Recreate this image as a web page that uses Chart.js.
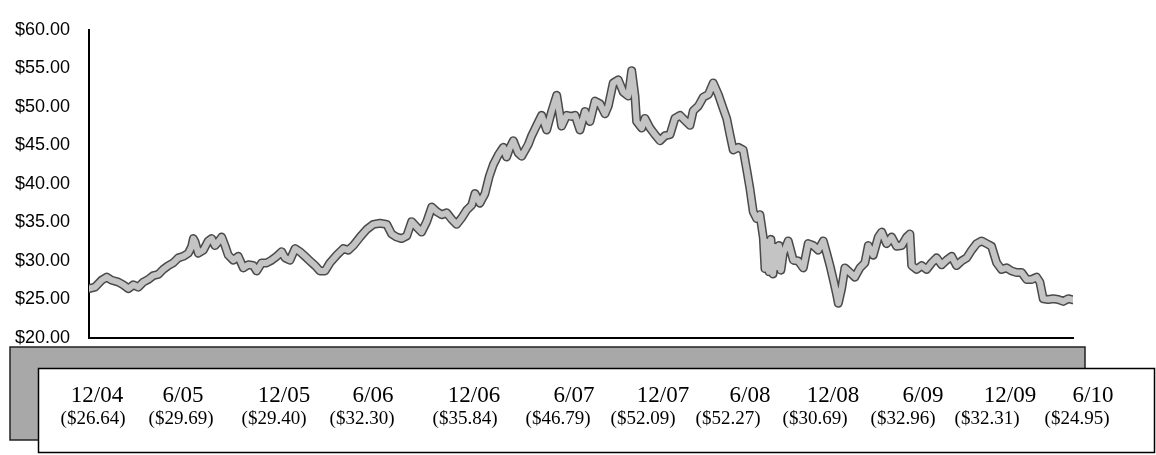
<!DOCTYPE html>
<html>
<head>
<meta charset="utf-8">
<script src="https://cdn.jsdelivr.net/npm/chart.js@4.4.0/dist/chart.umd.min.js"></script>
<style>
    html, body { margin: 0; padding: 0; background: #fff; }
    #wrap { width: 1156px; height: 455px; position: relative; }
</style>
</head>
<body>
<div id="wrap"><canvas id="priceChart"></canvas></div>
<script>
// months since 12/04
var months = [
    0, 0.40, 0.85, 1.19, 1.52, 1.97, 2.30, 2.64, 2.97, 3.31, 3.64, 3.98, 4.31, 4.65, 4.98, 5.32, 5.65, 5.99,
    6.32, 6.66, 6.89, 7.00, 7.11, 7.33, 7.67, 8.00, 8.23, 8.45, 8.67, 8.90, 9.12, 9.34, 9.68, 10.01, 10.35, 10.68,
    11.02, 11.25, 11.58, 11.92, 12.25, 12.59, 12.92, 13.15, 13.48, 13.82, 14.15, 14.49, 14.82, 15.16, 15.49, 15.83, 16.16,
    16.61, 17.06, 17.39, 17.73, 18.18, 18.63, 19.07, 19.52, 19.97, 20.30, 20.64, 20.97, 21.31, 21.64, 21.98, 22.31,
    22.65, 22.99, 23.32, 23.66, 23.99, 24.33, 24.66, 25.00, 25.33, 25.67, 25.89, 26.22, 26.56, 26.85, 27.12, 27.45,
    27.79, 28.01, 28.24, 28.46, 28.79, 29.02, 29.46, 29.69, 30.03, 30.36, 30.70, 31.03, 31.37, 31.70, 32.04, 32.37,
    32.60, 32.93, 33.27, 33.60, 33.94, 34.27, 34.61, 34.83, 35.16, 35.50, 35.84, 36.17, 36.40, 36.62, 36.73, 37.07,
    37.29, 37.63, 37.96, 38.30, 38.63, 38.97, 39.30, 39.64, 39.97, 40.31, 40.53, 40.87, 41.20, 41.54, 41.87, 42.21,
    42.54, 42.77, 42.99, 43.21, 43.55, 43.88, 44.11, 44.33, 44.55, 44.78, 45.00, 45.23,
    45.34, 45.47, 45.61, 45.74, 45.88, 46.01, 46.14, 46.28, 46.41, 46.57, 46.90, 47.24, 47.57, 47.91, 48.24, 48.58,
    48.91, 49.25, 49.48, 49.70, 49.92, 50.15, 50.26, 50.48, 50.70, 51.04, 51.37, 51.71, 52.04, 52.27, 52.60, 52.94,
    53.17, 53.50, 53.84, 54.17, 54.51, 54.84, 55.06, 55.18, 55.51, 55.85, 56.18, 56.52, 56.85, 57.19, 57.52, 57.86,
    58.19, 58.53, 58.87, 59.20, 59.54, 59.87, 60.21, 60.54, 60.88, 61.21, 61.55, 61.88, 62.22, 62.55, 62.89, 63.23,
    63.56, 63.78, 64.00, 64.34, 64.67, 65.01, 65.35, 65.68, 66
];
var prices = [
    26.4, 26.6, 27.5, 27.9, 27.5, 27.25, 26.9, 26.4, 26.9, 26.6, 27.25, 27.6, 28.1, 28.25, 28.9, 29.4, 29.75, 30.4,
    30.6, 31.0, 31.9, 32.9, 32.5, 31.0, 31.4, 32.6, 32.9, 32.0, 32.5, 33.1, 32.0, 30.75, 30.1, 30.6, 29.1, 29.5,
    29.4, 28.7, 29.75, 29.75, 30.1, 30.6, 31.2, 30.4, 30.1, 31.6, 31.2, 30.6, 30.0, 29.4, 28.7, 28.7, 29.75,
    30.75, 31.6, 31.4, 32.0, 33.1, 34.1, 34.75, 34.9, 34.75, 33.5, 33.1, 32.9, 33.25, 35.1, 34.4, 33.75,
    35.1, 37.0, 36.4, 36.0, 36.25, 35.4, 34.75, 35.6, 36.6, 37.25, 38.75, 37.5, 38.75, 41.0, 42.5, 43.75,
    44.75, 43.5, 44.75, 45.6, 44.0, 43.6, 45.1, 46.25, 47.6, 48.9, 47.0, 49.4, 51.5, 47.5, 48.9, 48.75,
    48.9, 47.0, 49.4, 48.1, 50.75, 50.4, 49.1, 50.1, 53.1, 53.5, 51.9, 51.4, 54.7, 51.4, 48.1, 47.25,
    48.5, 47.25, 46.4, 45.6, 46.25, 46.4, 48.5, 48.9, 48.25, 47.6, 49.5, 50.1, 51.25, 51.6, 53.1, 51.6,
    49.75, 48.5, 46.4, 44.4, 44.75, 44.4, 41.9, 39.4, 36.4, 35.5, 36.0, 33.0,
    29.0, 32.5, 28.6, 32.8, 28.3, 31.8, 29.2, 32.0, 28.8, 31.0, 32.6, 30.1, 30.0, 29.1, 32.25, 32.0,
    31.4, 32.6, 31.0, 29.4, 27.6, 25.6, 24.5, 26.4, 29.1, 28.5, 27.9, 29.1, 29.75, 32.0, 30.75, 33.1,
    33.75, 32.25, 33.1, 31.9, 32.0, 33.1, 33.5, 29.4, 28.9, 29.4, 28.9, 29.75, 30.4, 29.5, 30.1, 30.6,
    29.4, 30.0, 30.4, 31.4, 32.25, 32.6, 32.25, 31.9, 29.75, 28.9, 29.1, 28.7, 28.5, 28.5, 27.6, 27.6,
    27.9, 27.25, 25.1, 25.0, 25.1, 25.0, 24.75, 25.1, 24.95
];
var yTicks = [20, 25, 30, 35, 40, 45, 50, 55, 60];
var dateLabels = ['12/04', '6/05', '12/05', '6/06', '12/06', '6/07', '12/07', '6/08', '12/08', '6/09', '12/09', '6/10'];
var closeLabels = ['($26.64)', '($29.69)', '($29.40)', '($32.30)', '($35.84)', '($46.79)', '($52.09)', '($52.27)', '($30.69)', '($32.96)', '($32.31)', '($24.95)'];

// where the text sits inside the box below the chart
var dateX = [97, 183, 284, 373, 474, 574, 663, 750, 833, 923, 1010, 1093];
var closeX = [93, 181, 274, 362, 465, 558, 643, 728, 815, 903, 987, 1077];

var points = months.map(function (m, i) {
    return { x: m, y: prices[i] };
});

const summaryBox = {
    id: 'summaryBox',
    afterDraw: function (chart) {
        const ctx = chart.ctx;
        ctx.save();
        // gray shadow band
        ctx.fillStyle = '#a8a8a8';
        ctx.fillRect(10, 347, 1075, 93);
        ctx.strokeStyle = '#222';
        ctx.lineWidth = 1.5;
        ctx.strokeRect(10, 347, 1075, 93);
        // white box
        ctx.fillStyle = '#fff';
        ctx.fillRect(38, 368, 1117, 85);
        ctx.strokeStyle = '#000';
        ctx.lineWidth = 1.5;
        ctx.strokeRect(38.5, 368.5, 1116, 84);

        ctx.fillStyle = '#000';
        ctx.textAlign = 'center';
        ctx.textBaseline = 'alphabetic';
        ctx.font = '23px "Liberation Serif", "Times New Roman", serif';
        dateLabels.forEach(function (d, i) {
            ctx.fillText(d, dateX[i], 402);
        });
        ctx.font = '19px "Liberation Serif", "Times New Roman", serif';
        closeLabels.forEach(function (c, i) {
            ctx.fillText(c, closeX[i], 424);
        });
        ctx.restore();
    }
};

const data = {
    datasets: [{
        label: 'price',
        data: points,
        borderColor: '#c4c4c4',
        borderWidth: 6,
        pointRadius: 0,
        tension: 0,
        borderJoinStyle: 'round',
        borderCapStyle: 'round',
        order: 0
    }, {
        label: 'edge',
        data: points,
        borderColor: '#4a4a4a',
        borderWidth: 9,
        pointRadius: 0,
        tension: 0,
        borderJoinStyle: 'round',
        borderCapStyle: 'round',
        order: 1
    }]
};

const config = {
    type: 'line',
    data: data,
    plugins: [summaryBox],
    options: {
        responsive: true,
        maintainAspectRatio: false,
        animation: false,
        devicePixelRatio: 1,
        layout: { padding: { top: 18, right: 83, bottom: 117, left: 0 } },
        plugins: {
            legend: { display: false },
            tooltip: { enabled: false }
        },
        scales: {
            x: {
                type: 'linear',
                min: 0,
                max: 66,
                ticks: { display: false },
                grid: { display: false, drawTicks: false },
                border: { display: true, color: '#000', width: 2 },
                afterFit: function (scale) { scale.height = 0; }
            },
            y: {
                min: 20,
                max: 60,
                afterBuildTicks: function (scale) {
                    scale.ticks = yTicks.map(function (v) { return { value: v }; });
                },
                ticks: {
                    color: '#000',
                    padding: 19,
                    font: { family: '"Liberation Sans", Arial, sans-serif', size: 18 },
                    callback: function (v) { return '$' + Number(v).toFixed(2); }
                },
                grid: { display: false, drawTicks: false },
                border: { display: true, color: '#000', width: 2 },
                afterFit: function (scale) { scale.width = 89; }
            }
        }
    }
};

const priceChart = new Chart(document.getElementById('priceChart'), config);
</script>
</body>
</html>
